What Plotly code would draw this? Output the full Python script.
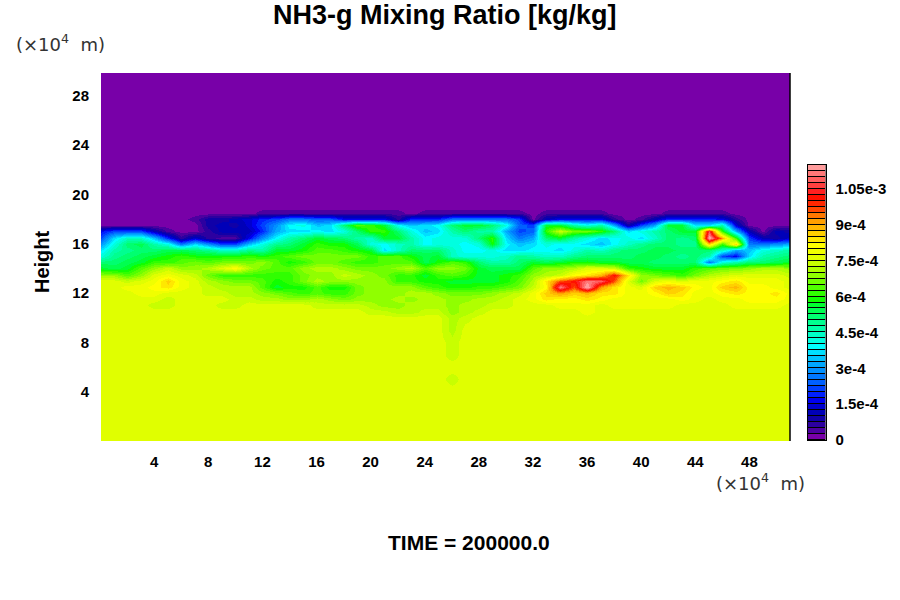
import numpy as np
import plotly.graph_objects as go

# Colour of each box in the scale, bottom to top (width of a box is LEVEL_STEP)
LEVEL_STEP = 2.5e-5
level_colors = [
    "#7800a8", "#4c00a0", "#2c00a0", "#1000a8", "#0000b8", "#0000d0", "#0000f0", "#0020ff",
    "#0040ff", "#0060ff", "#0078ff", "#0090ff", "#00a8ff", "#00c4ff", "#00e0ff", "#00ffff",
    "#00ffe0", "#00ffc8", "#00ffa8", "#00ff90", "#00ff70", "#00ff50", "#00ff30", "#10ff00",
    "#30ff00", "#50ff00", "#70ff00", "#90ff00", "#b0ff00", "#c8ff00", "#e0ff00", "#f0ff00",
    "#ffff00", "#ffe800", "#ffd000", "#ffb800", "#ffa000", "#ff7800", "#ff4800", "#ff2800",
    "#ff1000", "#ff2020", "#ff4040", "#ff6060", "#ff7878", "#ff9c9c",
]
cbar_ticks = [0, 1.5e-4, 3e-4, 4.5e-4, 6e-4, 7.5e-4, 9e-4, 1.05e-3]
cbar_labels = ["0", "1.5e-4", "3e-4", "4.5e-4", "6e-4", "7.5e-4", "9e-4", "1.05e-3"]

x_ticks = [4, 8, 12, 16, 20, 24, 28, 32, 36, 40, 44, 48]
y_ticks = [4, 8, 12, 16, 20, 24, 28]

# Horizontal position (x10^4 m), one value per column below
x_km = list(range(52))
# Height (x10^4 m), one value per row below, top row first
heights = [30, 19, 18.5, 18, 17.5, 17, 16.5, 16, 15.5, 15, 14.5, 14, 13.5, 13, 12.5, 12, 11.5, 11,
           10.5, 10, 9, 8, 7, 6, 5, 4, 0]

# Mixing ratio, as box number of the colour scale
levels = [
    [0] * 52,
    [0] * 52,
    [0,0,0,0,0,0,0,0,0,0,0,0,1,1,1,1,1,1,1,1,1,1,1,0,1,1,1,1,1,1,1,1,0,1,1,1,1,1,0,0,0,0,1,1,1,1,1,0,0,0,0,0],
    [0,0,0,0,0,0,0,1,3,3,4,5,7,8,10,10,9,9,6,6,6,6,2,7,7,7,10,10,10,10,10,8,0,4,6,6,6,6,2,0,1,4,7,7,7,7,6,2,0,0,0,0],
    [0,0,0,0,0,0,0,0,3,4,3,5,8,11,15,16,13,14,20,25,24,22,15,13,14,15,20,22,22,20,16,9,8,22,22,18,16,18,12,3,8,12,22,22,14,14,18,5,0,0,0,0],
    [6,8,8,8,4,1,0,0,2,4,4,4,7,12,14,14,15,14,16,20,24,24,20,16,13,14,18,20,18,18,12,8,9,24,29,26,26,24,20,14,16,18,20,22,22,42,24,12,4,0,4,3],
    [8,14,17,17,13,7,2,5,2,1,1,6,11,15,18,20,22,21,20,18,17,22,22,18,15,16,16,16,20,24,14,10,12,20,22,18,16,14,15,16,14,17,20,19,20,46,36,24,8,4,3,5],
    [11,16,20,21,18,16,10,14,11,8,8,13,16,19,20,22,24,23,23,21,16,15,17,18,15,16,16,15,16,23,15,13,14,16,15,15,14,13,15,17,19,20,20,19,19,34,24,34,10,10,11,12],
    [14,18,19,20,20,21,21,20,19,17,17,19,18,22,22,23,25,25,24,23,22,14,17,20,20,20,17,15,15,16,14,14,15,15,14,16,18,17,19,20,20,21,21,20,20,20,17,12,13,16,17,18],
    [16,19,20,21,22,23,24,23,23,23,23,24,23,24,25,26,26,26,26,26,24,25,25,23,21,22,17,16,16,16,17,19,18,17,17,19,20,20,20,20,21,21,20,19,20,18,8,6,14,18,19,20],
    [20,20,21,22,24,24,25,26,25,26,26,26,27,25,23,24,26,26,25,24,24,25,25,25,21,23,25,24,20,18,18,20,22,21,22,23,23,22,22,21,21,20,20,20,20,10,16,18,20,20,21,22],
    [22,21,22,25,27,29,27,27,28,30,32,28,26,25,25,27,28,28,27,26,26,26,27,28,25,27,27,26,22,21,21,21,25,27,27,28,30,30,29,24,23,22,22,22,24,25,26,26,27,28,28,27],
    [27,27,25,27,30,31,30,29,26,24,24,24,24,24,24,26,27,27,29,28,27,26,24,24,22,24,25,24,22,22,23,24,27,28,29,32,33,35,40,33,27,26,25,24,26,28,29,30,30,30,30,29],
    [30,30,29,30,31,34,31,30,28,27,26,26,25,23,24,26,28,27,27,27,27,27,24,24,23,23,22,22,22,22,23,25,28,33,38,40,44,43,38,30,26,30,31,30,31,31,32,33,31,31,31,30],
    [30,30,31,31,32,33,31,30,29,28,28,28,25,22,23,23,25,23,23,26,27,27,27,27,25,24,23,23,24,24,25,26,29,32,44,38,46,36,33,31,30,34,35,34,32,31,34,35,32,32,31,30],
    [30,30,30,31,31,30,30,30,29,29,28,28,27,26,25,24,25,24,24,26,27,27,27,28,28,27,26,26,26,27,28,29,31,34,36,34,35,33,33,31,31,32,34,33,31,31,32,33,32,32,33,31],
    [30,30,30,30,30,29,30,30,30,30,29,29,28,28,27,27,28,27,26,27,27,27,28,27,28,28,27,27,28,28,29,30,31,33,32,32,33,32,31,31,31,31,31,32,31,30,31,31,32,32,32,31],
    [30,30,30,30,29,29,30,30,30,29,29,30,30,30,30,30,29,29,29,29,28,27,27,28,28,28,27,28,28,29,29,30,30,30,31,31,31,30,31,31,31,31,31,30,30,30,30,31,31,31,31,30],
    [30,30,30,30,30,30,30,30,30,30,30,30,30,30,30,30,30,30,30,30,29,29,28,28,29,29,27,28,29,30,30,30,30,30,30,30,31,30,30,30,30,30,30,30,30,30,30,30,30,30,30,30],
    [30,30,30,30,30,30,30,30,30,30,30,30,30,30,30,30,30,30,30,30,30,30,30,30,30,30,28,29,30,30,30,30,30,30,30,30,30,30,30,30,30,30,30,30,30,30,30,30,30,30,30,30],
    [30,30,30,30,30,30,30,30,30,30,30,30,30,30,30,30,30,30,30,30,30,30,30,30,30,30,28,30,30,30,30,30,30,30,30,30,30,30,30,30,30,30,30,30,30,30,30,30,30,30,30,30],
    [30,30,30,30,30,30,30,30,30,30,30,30,30,30,30,30,30,30,30,30,30,30,30,30,30,30,29,30,30,30,30,30,30,30,30,30,30,30,30,30,30,30,30,30,30,30,30,30,30,30,30,30],
    [30,30,30,30,30,30,30,30,30,30,30,30,30,30,30,30,30,30,30,30,30,30,30,30,30,30,29,30,30,30,30,30,30,30,30,30,30,30,30,30,30,30,30,30,30,30,30,30,30,30,30,30],
    [30,30,30,30,30,30,30,30,30,30,30,30,30,30,30,30,30,30,30,30,30,30,30,30,30,30,30,30,30,30,30,30,30,30,30,30,30,30,30,30,30,30,30,30,30,30,30,30,30,30,30,30],
    [30,30,30,30,30,30,30,30,30,30,30,30,30,30,30,30,30,30,30,30,30,30,30,30,30,30,29,30,30,30,30,30,30,30,30,30,30,30,30,30,30,30,30,30,30,30,30,30,30,30,30,30],
    [30] * 52,
    [30] * 52,
]

# Stepped colour scale so the smoothed field falls into discrete bands
n_levels = len(level_colors)
colorscale = []
for i, color in enumerate(level_colors):
    colorscale.append([i / n_levels, color])
    colorscale.append([(i + 1) / n_levels, color])

z_field = (np.array(levels)[::-1] + 0.5) * LEVEL_STEP
z_max = n_levels * LEVEL_STEP
box_centres = (np.arange(n_levels) + 0.5) * LEVEL_STEP

TICK_FONT = dict(family="Liberation Sans", size=15, color="black", weight="bold")
UNIT_FONT = dict(family="DejaVu Sans", size=18, color="#333333", weight="normal")
UNIT_TEXT = "(×10<sup>4</sup>  m)"

fig = go.Figure()
fig.add_trace(
    go.Heatmap(
        x=x_km,
        y=heights[::-1],
        z=z_field,
        zmin=0,
        zmax=z_max,
        zsmooth="best",
        colorscale=colorscale,
        showscale=False,
        hoverinfo="skip",
    )
)
fig.add_trace(
    go.Heatmap(
        x=[0],
        y=box_centres,
        z=box_centres.reshape(-1, 1),
        zmin=0,
        zmax=z_max,
        ygap=1,
        colorscale=colorscale,
        showscale=False,
        hoverinfo="skip",
        xaxis="x2",
        yaxis="y2",
    )
)

fig.update_layout(
    width=900,
    height=600,
    margin=dict(l=0, r=0, t=0, b=0),
    paper_bgcolor="white",
    plot_bgcolor="black",
    showlegend=False,
    xaxis=dict(
        domain=[101 / 900, 790 / 900],
        range=[0.07, 51.0],
        automargin=False,
        tickvals=x_ticks,
        ticks="outside",
        ticklen=7,
        tickcolor="rgba(0,0,0,0)",
        tickfont=TICK_FONT,
        showgrid=False,
        zeroline=False,
    ),
    yaxis=dict(
        domain=[159 / 600, 527 / 600],
        range=[0.0, 29.85],
        automargin=False,
        tickvals=y_ticks,
        ticks="outside",
        ticklen=8,
        tickcolor="rgba(0,0,0,0)",
        tickfont=TICK_FONT,
        showgrid=False,
        zeroline=False,
    ),
    xaxis2=dict(
        domain=[807.5 / 900, 825.5 / 900],
        anchor="y2",
        automargin=False,
        showticklabels=False,
        ticks="",
        showgrid=False,
        zeroline=False,
        showline=True,
        mirror=True,
        linecolor="black",
        linewidth=1,
    ),
    yaxis2=dict(
        domain=[160 / 600, 435 / 600],
        anchor="x2",
        side="right",
        range=[0, z_max],
        automargin=False,
        tickvals=cbar_ticks,
        ticktext=cbar_labels,
        ticks="outside",
        ticklen=6,
        tickcolor="rgba(0,0,0,0)",
        tickfont=dict(family="Liberation Sans", size=15, color="black", weight="bold"),
        showgrid=False,
        zeroline=False,
        showline=True,
        mirror=True,
        linecolor="black",
        linewidth=1,
    ),
    shapes=[
        dict(type="line", xref="x domain", yref="y domain", x0=1, x1=1, y0=0, y1=1,
             line=dict(color="black", width=1.5)),
    ],
    annotations=[
        dict(text="NH3-g Mixing Ratio [kg/kg]", x=445 / 900, y=585 / 600,
             font=dict(family="Liberation Sans", size=27, color="black", weight="bold")),
        dict(text="TIME = 200000.0", x=469 / 900, y=58 / 600,
             font=dict(family="Liberation Sans", size=21, color="black", weight="bold")),
        dict(text="Height", x=42 / 900, y=338 / 600, textangle=-90,
             font=dict(family="Liberation Sans", size=20, color="black", weight="bold")),
        dict(text=UNIT_TEXT, x=60 / 900, y=557 / 600, font=UNIT_FONT),
        dict(text=UNIT_TEXT, x=760 / 900, y=118 / 600, font=UNIT_FONT),
    ],
)
fig.update_annotations(xref="paper", yref="paper", xanchor="center", yanchor="middle", showarrow=False)

fig.write_html(
    "out.html",
    config={"displayModeBar": False},
    post_script="document.body.style.margin = '0';",
)
